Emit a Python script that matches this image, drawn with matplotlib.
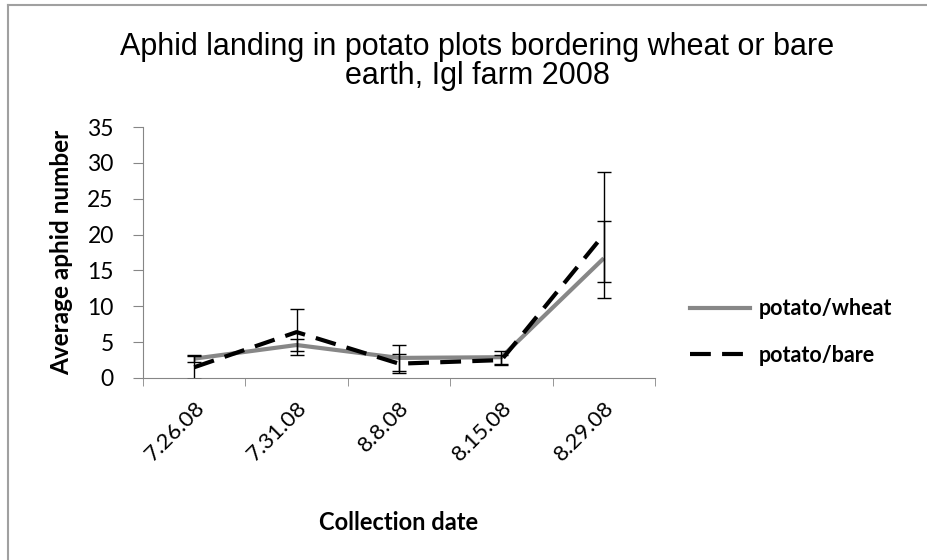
import numpy as np
import matplotlib
matplotlib.use("Agg")
import matplotlib.pyplot as plt
from matplotlib.lines import Line2D

# values
dates = ["7.26.08", "7.31.08", "8.8.08", "8.15.08", "8.29.08"]
wheat = [2.7, 4.6, 2.8, 2.9, 16.7]
wheat_lo = [0.5, 0.9, 1.8, 0.9, 3.3]
wheat_hi = [0.5, 0.9, 1.8, 0.9, 5.2]
bare = [1.5, 6.4, 2.0, 2.5, 20.0]
bare_lo = [1.6, 3.2, 1.3, 0.7, 8.8]
bare_hi = [1.6, 3.2, 1.3, 0.7, 8.7]

W, H = 927, 560
fig = plt.figure(figsize=(W / 100, H / 100), dpi=100)
ax = fig.add_axes([143 / W, 1 - 378 / H, (655 - 143) / W, (378 - 127) / H])

x = np.arange(len(dates))
ax.plot(x, wheat, color="#878787", lw=3, solid_capstyle="butt", zorder=3)
ax.plot(x, bare, color="black", lw=3, dashes=(5, 2.7), zorder=4)
ax.errorbar(x, wheat, yerr=[wheat_lo, wheat_hi], fmt="none", ecolor="black",
            elinewidth=1, capsize=5, capthick=1, zorder=5)
ax.errorbar(x, bare, yerr=[bare_lo, bare_hi], fmt="none", ecolor="black",
            elinewidth=1, capsize=5, capthick=1, zorder=5)

ax.set_xlim(-0.5, len(dates) - 0.5)
ax.set_ylim(0, 35)
ax.set_yticks(range(0, 36, 5))
ax.set_xticks(x)
ax.set_xticklabels(dates, rotation=45, ha="right", rotation_mode="anchor",
                   fontsize=16, family="Lato")
ax.set_xticks(np.arange(-0.5, len(dates)), minor=True)
ax.tick_params(axis="x", which="major", length=0, pad=14)
ax.tick_params(axis="x", which="minor", length=6, color="#868686")
ax.tick_params(axis="y", length=7, color="#868686", labelsize=16.5, pad=14)
for lab in ax.get_yticklabels():
    lab.set_family("Lato")
for s in ["top", "right"]:
    ax.spines[s].set_visible(False)
for s in ["left", "bottom"]:
    ax.spines[s].set_color("#868686")

ax.set_xlabel("Collection date", fontsize=17, fontweight="bold", family="Lato",
              labelpad=33)
ax.set_ylabel("Average aphid number", fontsize=17.5, fontweight="bold",
              family="Lato", labelpad=10)

fig.text(0.515, 0.89, "Aphid landing in potato plots bordering wheat or bare\nearth, Igl farm 2008",
         ha="center", va="center", fontsize=22, family="Liberation Sans",
         linespacing=0.95)

handles = [Line2D([], [], color="#878787", lw=3),
           Line2D([], [], color="black", lw=3, dashes=(5, 2.7))]
fig.legend(handles, ["potato/wheat", "potato/bare"], loc="center left",
           bbox_to_anchor=(690 / W, 1 - 332 / H), frameon=False,
           borderpad=0, borderaxespad=0,
           prop={"family": "Lato", "weight": "bold", "size": 15.5},
           handlelength=2.8, handletextpad=0.4, labelspacing=1.2)

# frame lines at top and left of the picture
fig.add_artist(Line2D([8 / W, 1], [1 - 5 / H, 1 - 5 / H], color="#a0a0a0", lw=1.5))
fig.add_artist(Line2D([8 / W, 8 / W], [0, 1 - 5 / H], color="#a0a0a0", lw=1.5))

fig.savefig("out.png", dpi=100)
